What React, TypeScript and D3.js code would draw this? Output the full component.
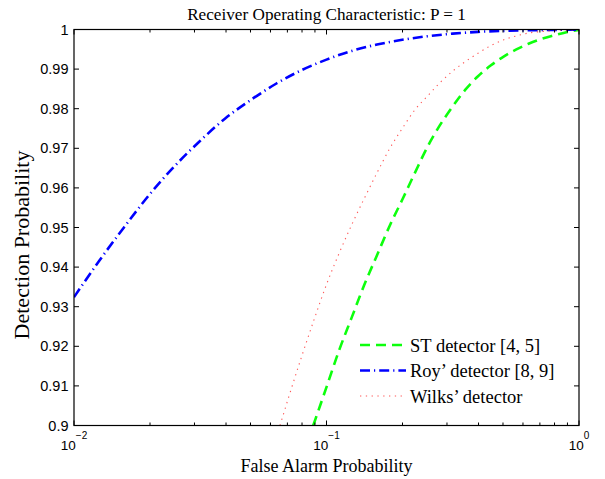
import React from "react";
import * as d3 from "d3";

const W = 605;
const H = 479;
const M = { left: 74, right: 26, top: 29.5, bottom: 53.5 };

const title = "Receiver Operating Characteristic: P = 1";
const xLabel = "False Alarm Probability";
const yLabel = "Detection Probability";

const xMajorTicks = [0.01, 0.1, 1];
const xMajorExponents = ["−2", "−1", "0"];
const yTicks = [0.9, 0.91, 0.92, 0.93, 0.94, 0.95, 0.96, 0.97, 0.98, 0.99, 1];
const yTickLabels = ["0.9", "0.91", "0.92", "0.93", "0.94", "0.95", "0.96", "0.97", "0.98", "0.99", "1"];

// ST detector [4, 5]
const stFA = [0.0886, 0.1, 0.1122, 0.1259, 0.1413, 0.1585, 0.1778, 0.1995, 0.2239, 0.2512, 0.2818, 0.3162, 0.3548, 0.3981, 0.4467, 0.5012, 0.5623, 0.631, 0.7079, 0.7943, 0.8913, 1.0];
const stPD = [0.9, 0.9097, 0.919, 0.9273, 0.9356, 0.943, 0.9504, 0.957, 0.9638, 0.9704, 0.9759, 0.9806, 0.9848, 0.9882, 0.9909, 0.9931, 0.9949, 0.9964, 0.9976, 0.9985, 0.9993, 0.9999];

// Roy' detector [8, 9]
const royFA = [0.01, 0.01259, 0.01585, 0.01995, 0.02512, 0.03162, 0.03981, 0.05012, 0.0631, 0.07943, 0.1, 0.1259, 0.1585, 0.1995, 0.2512, 0.3162, 0.3981, 0.5012, 0.631, 0.7943, 1.0];
const royPD = [0.9324, 0.9416, 0.9502, 0.9584, 0.9656, 0.9719, 0.9776, 0.9822, 0.9863, 0.9897, 0.9924, 0.9946, 0.9962, 0.9974, 0.9983, 0.99895, 0.9994, 0.99965, 0.9998, 0.9999, 0.99995];

// Wilks' detector
const wilksFA = [0.06543, 0.07079, 0.07943, 0.08913, 0.1, 0.1122, 0.1259, 0.1413, 0.1585, 0.1778, 0.1995, 0.2239, 0.2512, 0.2818, 0.3162, 0.3548, 0.3981, 0.4467, 0.5012, 0.5623, 0.631, 0.7079, 0.7943, 0.8913, 1.0];
const wilksPD = [0.9, 0.9071, 0.9171, 0.9266, 0.9356, 0.9435, 0.9507, 0.9574, 0.9638, 0.9699, 0.975, 0.9797, 0.9832, 0.9866, 0.9895, 0.9919, 0.994, 0.9959, 0.99735, 0.99835, 0.9991, 0.99946, 0.9997, 0.99985, 0.99995];

const seriesNames = ["ST detector [4, 5]", "Roy’ detector [8, 9]", "Wilks’ detector"];

export default function App() {
  const x = d3.scaleLog().domain([0.01, 1]).range([M.left, W - M.right]);
  const y = d3.scaleLinear().domain([0.9, 1]).range([H - M.bottom, M.top]);
  const line = d3
    .line<[number, number]>()
    .x((d) => x(d[0]))
    .y((d) => y(d[1]))
    .curve(d3.curveMonotoneX);

  const series = [
    { name: seriesNames[0], fa: stFA, pd: stPD, color: "#00ff00", width: 2.6, dash: "10,6", opacity: 0.95 },
    { name: seriesNames[1], fa: royFA, pd: royPD, color: "#0000ff", width: 2.6, dash: "10,4,1.2,4", opacity: 1 },
    { name: seriesNames[2], fa: wilksFA, pd: wilksPD, color: "#ff3a3a", width: 1.1, dash: "1.3,4.5", opacity: 0.85 },
  ];

  const x0 = M.left;
  const x1 = W - M.right;
  const y0 = H - M.bottom;
  const y1 = M.top;

  const minorTicks: number[] = [];
  for (const dec of [0.01, 0.1]) {
    for (let k = 2; k <= 9; k++) minorTicks.push(dec * k);
  }

  const tickFont = "'Liberation Sans', Arial, sans-serif";
  const serif = "'Liberation Serif', 'Times New Roman', serif";

  return (
    <svg width={W} height={H} style={{ position: "absolute", left: 0, top: 0, background: "#fff" }}>
      <rect x={0} y={0} width={W} height={H} fill="#fff" />
      <defs>
        <clipPath id="plotclip">
          <rect x={x0} y={y1} width={x1 - x0} height={y0 - y1} />
        </clipPath>
      </defs>

      <g clipPath="url(#plotclip)">
        {series.map((s) => (
          <path
            key={s.name}
            d={line(s.fa.map((f, i) => [f, s.pd[i]] as [number, number])) || ""}
            fill="none"
            stroke={s.color}
            strokeWidth={s.width}
            strokeDasharray={s.dash}
            strokeOpacity={s.opacity}
          />
        ))}
      </g>

      <g stroke="#000" strokeWidth={1}>
        {xMajorTicks.map((t) => (
          <g key={"xm" + t}>
            <line x1={x(t)} x2={x(t)} y1={y0} y2={y0 - 5} />
            <line x1={x(t)} x2={x(t)} y1={y1} y2={y1 + 5} />
          </g>
        ))}
        {minorTicks.map((t) => (
          <g key={"xn" + t}>
            <line x1={x(t)} x2={x(t)} y1={y0} y2={y0 - 3} />
            <line x1={x(t)} x2={x(t)} y1={y1} y2={y1 + 3} />
          </g>
        ))}
        {yTicks.map((t) => (
          <g key={"y" + t}>
            <line x1={x0} x2={x0 + 5} y1={y(t)} y2={y(t)} />
            <line x1={x1} x2={x1 - 5} y1={y(t)} y2={y(t)} />
          </g>
        ))}
      </g>

      <rect x={x0} y={y1} width={x1 - x0} height={y0 - y1} fill="none" stroke="#000" strokeWidth={1.2} />

      {yTicks.map((t, i) => (
        <text key={"yl" + t} x={x0 - 5.5} y={y(t) + 5} textAnchor="end" fontFamily={tickFont} fontSize={14.5} fill="#000">
          {yTickLabels[i]}
        </text>
      ))}

      {xMajorTicks.map((t, i) => (
        <text key={"xl" + t} x={x(t)} y={449.5} textAnchor="middle" fontFamily={tickFont} fontSize={13.5} fill="#000">
          <tspan>10</tspan>
          <tspan dy={-11} fontSize={10}>{xMajorExponents[i]}</tspan>
        </text>
      ))}

      <text x={(x0 + x1) / 2} y={19.5} textAnchor="middle" fontFamily={serif} fontSize={17.2} fill="#000">
        {title}
      </text>
      <text x={(x0 + x1) / 2} y={472} textAnchor="middle" fontFamily={serif} fontSize={18} fill="#000">
        {xLabel}
      </text>
      <text
        transform={`translate(${28.5},${245}) rotate(-90)`}
        textAnchor="middle"
        fontFamily={serif}
        fontSize={22}
        fill="#000"
      >
        {yLabel}
      </text>

      {series.map((s, i) => {
        const ly = 345 + i * 25.5;
        return (
          <g key={"lg" + s.name}>
            <line x1={360} x2={406} y1={ly} y2={ly} stroke={s.color} strokeWidth={s.width} strokeDasharray={s.dash} strokeOpacity={s.opacity} />
            <text x={410} y={ly + 6.5} fontFamily={serif} fontSize={18.5} fill="#000">
              {s.name}
            </text>
          </g>
        );
      })}
    </svg>
  );
}
